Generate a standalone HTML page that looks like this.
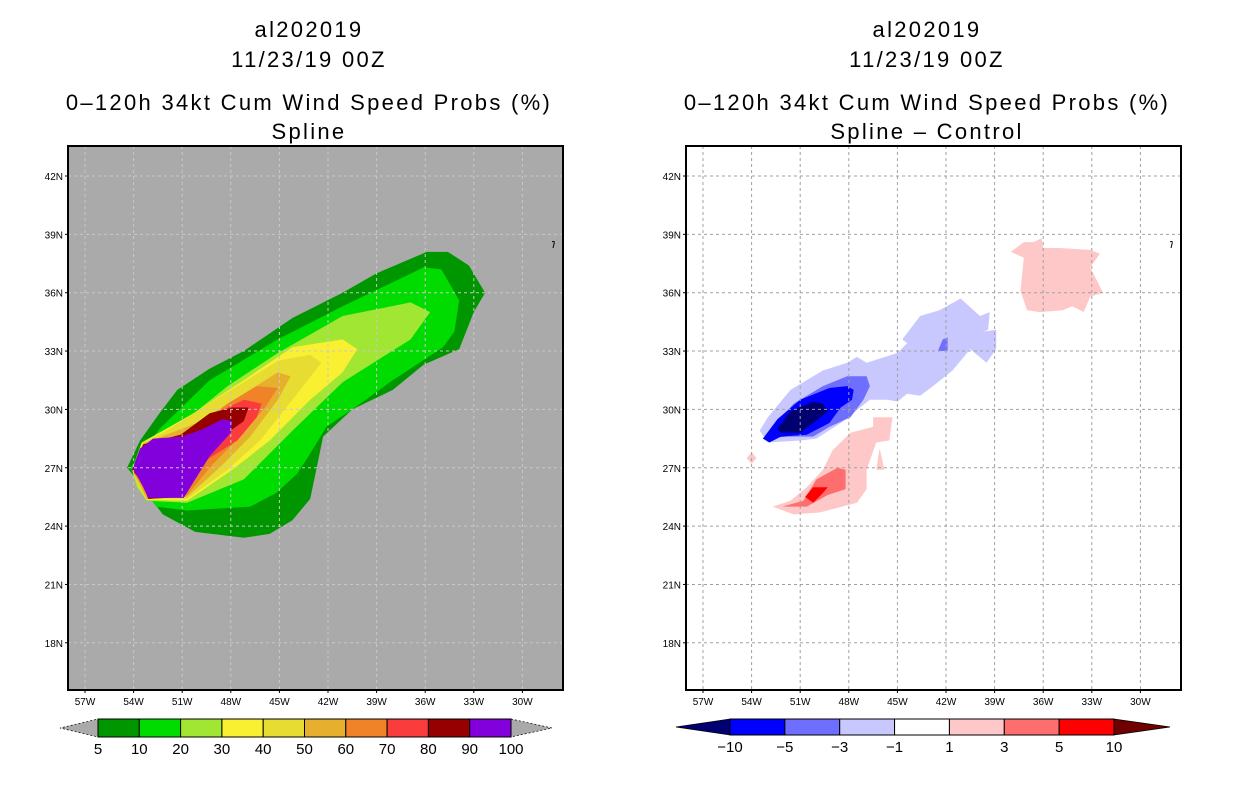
<!DOCTYPE html>
<html><head><meta charset="utf-8"><style>
body{margin:0;background:#fff;width:1236px;height:800px;overflow:hidden;font-family:"Liberation Sans",sans-serif}
svg text{font-family:"Liberation Sans",sans-serif}
</style></head><body>
<svg id="s" width="1236" height="800" xmlns="http://www.w3.org/2000/svg"></svg>
<script>
// ---- data ----
const latTicks=[42,39,36,33,30,27,24,21,18];
const lonTicks=[-57,-54,-51,-48,-45,-42,-39,-36,-33,-30];
const probLevels=["5","10","20","30","40","50","60","70","80","90","100"];
const probColors=["#009600","#00dc00","#a0e632","#faf032","#e6dc32","#e6af2d","#f08228","#fa3c3c","#960000","#8200dc"];
const diffLevels=["\u221210","\u22125","\u22123","\u22121","1","3","5","10"];
const diffColors=["#0000ff","#6e6eff","#c8c8ff","#ffffff","#ffc8c8","#ff6e6e","#ff0000"];
const p5=[[-54.4,27.0],[-53.6,28.4],[-52.4,29.8],[-51.3,31.0],[-49.3,32.1],[-47.2,33.0],[-44.2,34.7],[-41.1,36.0],[-39.0,37.0],[-35.9,38.1],[-34.6,38.1],[-33.3,37.4],[-32.3,36.0],[-33.0,35.0],[-33.9,33.1],[-36.1,32.3],[-38.0,31.0],[-40.5,30.0],[-42.3,28.6],[-42.7,27.0],[-43.1,25.4],[-44.2,24.3],[-45.6,23.6],[-47.2,23.4],[-50.2,23.7],[-52.2,24.6],[-53.1,25.6],[-53.8,26.4]];
const p10=[[-54.2,27.0],[-52.4,29.0],[-49.3,31.5],[-45.1,33.6],[-41.1,35.3],[-37.6,36.7],[-36.1,37.3],[-35.0,37.2],[-33.9,35.6],[-34.2,34.0],[-34.9,33.2],[-38.0,31.5],[-40.0,30.3],[-42.1,29.1],[-43.2,27.6],[-43.9,26.7],[-45.2,25.7],[-46.8,25.0],[-50.7,24.8],[-52.6,25.0],[-53.5,26.0]];
const p20=[[-54.1,26.9],[-53.6,27.8],[-52.8,28.6],[-51.3,29.1],[-48.2,31.2],[-45.1,32.9],[-41.1,34.8],[-36.9,35.5],[-35.7,35.0],[-36.9,33.6],[-41.1,31.4],[-44.2,28.9],[-47.2,26.4],[-50.7,25.2],[-53.2,25.3],[-53.8,26.0]];
const p30=[[-54.1,26.9],[-53.5,28.3],[-52.2,28.9],[-50.3,29.8],[-47.2,31.5],[-44.2,33.2],[-41.1,33.6],[-40.2,33.1],[-41.1,31.9],[-43.1,30.5],[-45.6,28.4],[-47.9,26.9],[-50.7,25.3],[-53.2,25.35],[-53.7,26.0]];
const p40=[[-54.1,26.9],[-53.4,28.3],[-52.2,28.8],[-50.3,29.8],[-47.6,31.2],[-45.1,32.5],[-43.1,32.8],[-42.4,32.4],[-44.2,30.5],[-46.2,28.4],[-48.2,26.9],[-50.7,25.4],[-53.2,25.4],[-53.7,26.0]];
const p50=[[-54.1,26.9],[-53.4,28.25],[-52.0,28.7],[-50.1,29.3],[-47.2,30.8],[-45.1,31.9],[-44.3,31.7],[-45.1,30.5],[-46.8,28.6],[-48.7,27.0],[-50.7,25.5],[-53.2,25.4],[-53.6,26.1]];
const p60=[[-54.1,26.9],[-53.4,28.2],[-51.6,28.6],[-50.3,28.9],[-48.2,30.3],[-46.4,31.2],[-45.1,31.1],[-45.8,30.2],[-47.2,28.8],[-49.1,27.2],[-50.7,25.6],[-53.1,25.4],[-53.5,26.1]];
const p70=[[-54.1,26.9],[-53.4,28.2],[-51.1,28.65],[-48.7,29.9],[-47.2,30.5],[-46.1,30.3],[-46.4,29.6],[-47.6,28.4],[-49.5,27.4],[-50.8,25.6],[-53.1,25.4],[-53.4,26.2]];
const p80=[[-54.1,26.9],[-53.4,28.2],[-51.1,28.7],[-49.3,29.8],[-47.9,30.1],[-46.9,30.1],[-47.2,29.4],[-48.2,28.8],[-49.9,27.4],[-50.9,25.5],[-53.1,25.4],[-53.4,26.2]];
const p90=[[-54.05,27.0],[-53.6,28.0],[-53.4,28.1],[-53.1,28.3],[-52.8,28.5],[-51.0,28.6],[-49.7,29.0],[-48.5,29.5],[-47.9,29.4],[-48.0,28.8],[-49.3,27.6],[-50.5,26.0],[-50.9,25.45],[-53.1,25.45],[-53.4,26.0]];
const probPolys=[p5,p10,p20,p30,p40,p50,p60,p70,p80,p90];
const dM1=[[-53.5,28.9],[-53.0,29.6],[-51.6,31.0],[-49.6,32.0],[-48.1,32.4],[-47.5,32.7],[-46.9,32.4],[-45.0,32.9],[-44.4,33.4],[-44.7,33.6],[-43.6,34.8],[-42.4,35.1],[-41.1,35.7],[-39.9,34.8],[-39.3,35.0],[-39.4,34.1],[-39.7,34.0],[-38.9,34.1],[-38.9,33.1],[-39.5,32.4],[-40.5,33.1],[-41.6,32.0],[-42.8,31.2],[-43.6,30.7],[-44.4,30.8],[-45.0,30.4],[-45.6,30.5],[-46.7,30.5],[-48.5,29.3],[-50.0,28.5],[-51.0,28.4],[-53.0,28.3]];
const dM3=[[-53.2,28.5],[-52.7,29.1],[-51.4,30.3],[-49.6,31.2],[-48.1,31.7],[-46.9,31.7],[-46.7,31.2],[-47.1,30.5],[-47.9,29.6],[-49.2,29.1],[-50.2,28.6],[-51.8,28.6]];
const dM3b=[[-42.2,33.6],[-41.9,33.7],[-41.9,33.0],[-42.5,33.0]];
const dM5=[[-53.3,28.5],[-52.4,29.5],[-51.0,30.5],[-49.2,31.1],[-48.1,31.2],[-47.7,31.0],[-47.8,30.5],[-48.5,30.1],[-49.2,29.3],[-50.6,28.7],[-52.2,28.6],[-52.9,28.3]];
const dM10=[[-52.4,29.0],[-51.6,29.9],[-50.2,30.4],[-49.6,30.3],[-49.3,29.9],[-50.2,29.3],[-51.0,28.8],[-52.2,28.8]];
const dP1=[[-52.7,25.0],[-51.6,25.3],[-50.6,26.0],[-49.6,26.9],[-49.0,27.9],[-47.9,28.8],[-46.5,29.1],[-46.5,29.6],[-45.3,29.6],[-45.5,28.4],[-46.3,28.3],[-46.9,26.9],[-46.9,25.9],[-47.5,25.2],[-49.8,24.7],[-51.4,24.6]];
const dP1b=[[-46.3,26.9],[-45.8,26.9],[-46.1,28.0]];
const dP1c=[[-54.3,27.5],[-54.0,27.8],[-53.7,27.5],[-54.0,27.2]];
const dP1d=[[-38.0,38.1],[-37.2,38.6],[-36.6,38.6],[-36.1,38.8],[-36.0,38.3],[-35.0,38.3],[-33.1,38.2],[-32.5,38.0],[-33.1,37.3],[-32.3,36.0],[-33.1,35.8],[-33.5,35.0],[-34.2,35.3],[-34.8,35.1],[-36.2,35.0],[-37.0,35.1],[-37.4,36.1],[-37.2,37.8]];
const dP3=[[-52.1,25.0],[-50.8,25.3],[-50.0,26.4],[-48.7,27.0],[-48.2,26.9],[-48.2,25.9],[-49.3,25.6],[-50.6,25.0]];
const dP5=[[-50.7,25.5],[-50.2,26.0],[-49.3,26.0],[-49.6,25.7],[-50.2,25.2]];
const diffPolys=[[dM1,"#c8c8ff"],[dM3,"#6e6eff"],[dM3b,"#6e6eff"],[dM5,"#0000ff"],[dM10,"#000070"],[dP1,"#ffc8c8"],[dP1b,"#ffc8c8"],[dP1c,"#ffc8c8"],[dP1d,"#ffc8c8"],[dP3,"#ff6e6e"],[dP5,"#ff0000"]];

// ---- layout ----
const S=document.getElementById('s');const NS='http://www.w3.org/2000/svg';
function el(t,a,p){const e=document.createElementNS(NS,t);for(const k in a)e.setAttribute(k,a[k]);(p||S).appendChild(e);return e;}
const PY0=146,PY1=690,PW=495;
function xS(off,lon){return off+17+(lon+57)*16.2;}
function yS(lat){return 176+(42-lat)*19.45;}
function lonLab(l){return (-l)+"W";}

function panel(off,bg,gridCol,name,sub,polys,cb){
  const g=el('g',{});
  
  
  const cx=off+241;
  [["al202019",37],["11/23/19 00Z",67],["0\u2013120h 34kt Cum Wind Speed Probs (%)",110],[sub,139]].forEach((t,i)=>{
    const tx=el('text',{x:cx,y:t[1],'text-anchor':'middle','font-size':22,'letter-spacing':2.3,fill:'#000'},g);
    tx.textContent=t[0];
    
    
  });
  const bgR=el('rect',{x:off,y:PY0,width:PW,height:PY1-PY0,fill:bg},g);
  
  
  const clip=el('clipPath',{id:'c'+off},g);el('rect',{x:off,y:PY0,width:PW,height:PY1-PY0},clip);
  const pg=el('g',{'clip-path':'url(#c'+off+')'},g);
  polys.forEach((p,i)=>{
    const pts=p[0].map(v=>xS(off,v[0]).toFixed(1)+','+yS(v[1]).toFixed(1)).join(' ');
    const pe=el('polygon',{points:pts,fill:p[1]},pg);
    
    
  });
  lonTicks.forEach(l=>{const x=xS(off,l);
    const ln=el('line',{x1:x,x2:x,y1:PY0,y2:PY1,stroke:gridCol,'stroke-width':1,'stroke-dasharray':'3,3'},pg);
    
    
    el('line',{x1:x,x2:x,y1:PY1,y2:PY1+3,stroke:'#000'},g);
    const t=el('text',{x:x,y:PY1+15,'text-anchor':'middle','font-size':10},g);t.textContent=lonLab(l);
    
    
  });
  latTicks.forEach(l=>{const y=yS(l);
    const ln=el('line',{x1:off,x2:off+PW,y1:y,y2:y,stroke:gridCol,'stroke-width':1,'stroke-dasharray':'3,3'},pg);
    
    
    el('line',{x1:off-3,x2:off,y1:y,y2:y,stroke:'#000'},g);
    const t=el('text',{x:off-5,y:y+4,'text-anchor':'end','font-size':10},g);t.textContent=l+"N";
    
    
  });
  el('path',{d:`M${off+484},242 q3,-2 2,2 l-1,4`,stroke:'#000',fill:'none','stroke-width':1},g);
  const fr=el('rect',{x:off,y:PY0,width:PW,height:PY1-PY0,fill:'none',stroke:'#000','stroke-width':2},g);
  
  
  cb(g);
}

panel(68,'#aaaaaa','#c8c8c8','left-panel-spline','Spline',probPolys.map((p,i)=>[p,probColors[i]]),g=>{
  const cbg=el('g',{},g);
  
  
  const x0=98,x1=511,y0=719,y1=737,w=(x1-x0)/probColors.length;
  el('polygon',{points:`${x0},${y0} ${x0},${y1} 60,728`,fill:'#aaaaaa',stroke:'#000','stroke-dasharray':'2,2','stroke-width':0.7},cbg);
  el('polygon',{points:`${x1},${y0} ${x1},${y1} 552,728`,fill:'#aaaaaa',stroke:'#000','stroke-dasharray':'2,2','stroke-width':0.7},cbg);
  probColors.forEach((c,i)=>{const r=el('rect',{x:x0+i*w,y:y0,width:w,height:y1-y0,fill:c,stroke:'#000','stroke-width':1},cbg);
    
    });
  probLevels.forEach((t,i)=>{const tx=el('text',{x:x0+i*w,y:754,'text-anchor':'middle','font-size':15},cbg);tx.textContent=t;
    
    });
});
panel(686,'#ffffff','#a0a0a0','right-panel-difference','Spline \u2013 Control',diffPolys,g=>{
  const cbg=el('g',{},g);
  
  
  const x0=730,x1=1114,y0=719,y1=735,w=(x1-x0)/diffColors.length;
  el('polygon',{points:`${x0},${y0} ${x0},${y1} 676,727`,fill:'#000070',stroke:'#000','stroke-width':0.7},cbg);
  el('polygon',{points:`${x1},${y0} ${x1},${y1} 1170,727`,fill:'#6e0000',stroke:'#000','stroke-width':0.7},cbg);
  diffColors.forEach((c,i)=>{const r=el('rect',{x:x0+i*w,y:y0,width:w,height:y1-y0,fill:c,stroke:'#000','stroke-width':1},cbg);
    
    });
  diffLevels.forEach((t,i)=>{const tx=el('text',{x:x0+i*w,y:752,'text-anchor':'middle','font-size':15},cbg);tx.textContent=t;
    
    });
});
</script>
</body></html>
